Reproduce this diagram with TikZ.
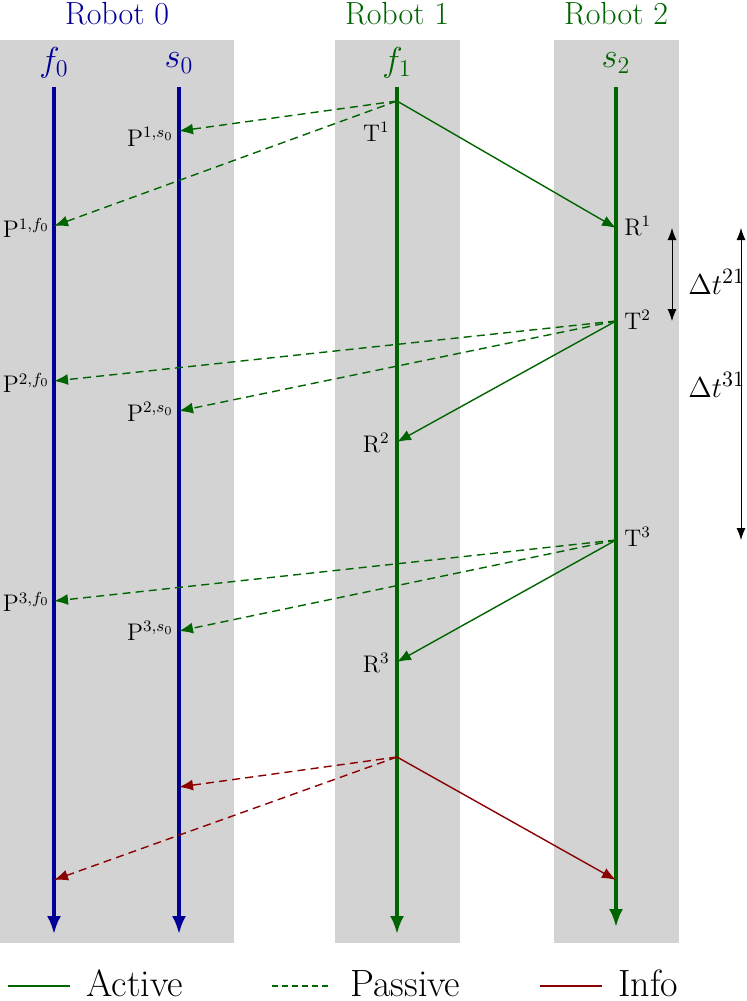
\documentclass[tikz,border=0pt]{standalone}
\usetikzlibrary{arrows.meta}
\definecolor{rblue}{RGB}{0,0,150}
\definecolor{rgreen}{RGB}{0,100,0}
\definecolor{rred}{RGB}{139,0,0}
\definecolor{bandgray}{RGB}{211,211,211}
\begin{document}
\begin{tikzpicture}[x=0.5pt,y=-0.5pt,
  band/.style={fill=bandgray, draw=none},
  timeline/.style={line width=1.6pt, -{Latex[length=9pt,width=7pt]}},
  active/.style={rgreen, line width=0.7pt, -{Latex[length=7pt,width=5.5pt]}},
  passive/.style={active, dash pattern=on 4pt off 2.6pt},
  info/.style={rred, line width=0.7pt, -{Latex[length=7pt,width=5.5pt]}},
  infopassive/.style={info, dash pattern=on 4pt off 2.6pt},
  title/.style={font=\fontsize{16}{19}\selectfont},
  axis/.style={font=\fontsize{17}{19}\selectfont},
  dtl/.style={font=\fontsize{15}{17}\selectfont, anchor=west, inner sep=0pt},
  lbl/.style={font=\fontsize{12}{14}\selectfont, inner sep=1pt},
  dt/.style={black, line width=0.4pt, {Latex[length=6pt,width=4.5pt]}-{Latex[length=6pt,width=4.5pt]}},
  legend/.style={font=\fontsize{19}{22}\selectfont, anchor=base west, inner sep=0pt}]
\useasboundingbox (0,0) rectangle (747,1001);
% bands
\fill[band] (0,40) rectangle (234,943);
\fill[band] (335,40) rectangle (460,943);
\fill[band] (554,40) rectangle (679,943);
% titles
\node[title, text=rblue] (r0) at (117,14) {Robot 0};
\node[title, text=rgreen] (r1) at (397,14) {Robot 1};
\node[title, text=rgreen] (r2) at (616,14) {Robot 2};
\node[axis, text=rblue] (hf0) at (54,63) {$f_0$};
\node[axis, text=rblue] (hs0) at (179,63) {$s_0$};
\node[axis, text=rgreen] (hf1) at (397,63) {$f_1$};
\node[axis, text=rgreen] (hs2) at (616,63) {$s_2$};
% timelines
\coordinate (f0top) at (54,87);  \coordinate (f0bot) at (54,934);
\coordinate (s0top) at (179,87); \coordinate (s0bot) at (179,934);
\coordinate (f1top) at (397,87); \coordinate (f1bot) at (397,934);
\coordinate (s2top) at (616,87); \coordinate (s2bot) at (616,927);
\draw[timeline, rblue] (f0top) -- (f0bot);
\draw[timeline, rblue] (s0top) -- (s0bot);
\draw[timeline, rgreen] (f1top) -- (f1bot);
\draw[timeline, rgreen] (s2top) -- (s2bot);
% events
\coordinate (T1) at (397,101);
\coordinate (P1s0) at (179,131);
\coordinate (P1f0) at (54,226);
\coordinate (R1) at (616,228);
\coordinate (T2) at (616,321);
\coordinate (P2f0) at (54,381);
\coordinate (P2s0) at (179,411);
\coordinate (R2) at (397,442);
\coordinate (T3) at (616,540);
\coordinate (P3f0) at (54,601);
\coordinate (P3s0) at (179,631);
\coordinate (R3) at (397,662);
\coordinate (I0) at (397,757);
\coordinate (Is0) at (179,787);
\coordinate (If0) at (54,880);
\coordinate (Is2) at (616,880);
% arrows
\draw[passive] (T1) -- (P1s0);
\draw[passive] (T1) -- (P1f0);
\draw[active] (T1) -- (R1);
\draw[passive] (T2) -- (P2f0);
\draw[passive] (T2) -- (P2s0);
\draw[active] (T2) -- (R2);
\draw[passive] (T3) -- (P3f0);
\draw[passive] (T3) -- (P3s0);
\draw[active] (T3) -- (R3);
\draw[infopassive] (I0) -- (Is0);
\draw[infopassive] (I0) -- (If0);
\draw[info] (I0) -- (Is2);
% labels
\node[lbl, anchor=east] (lT1) at (392,132) {$\mathrm{T}^1$};
\node[lbl, anchor=east] (lP1s0) at (176,137) {$\mathrm{P}^{1,s_0}$};
\node[lbl, anchor=east] (lP1f0) at (52,228) {$\mathrm{P}^{1,f_0}$};
\node[lbl, anchor=west] (lR1) at (622,226) {$\mathrm{R}^1$};
\node[lbl, anchor=west] (lT2) at (622,320) {$\mathrm{T}^2$};
\node[lbl, anchor=east] (lP2f0) at (52,383) {$\mathrm{P}^{2,f_0}$};
\node[lbl, anchor=east] (lP2s0) at (176,412) {$\mathrm{P}^{2,s_0}$};
\node[lbl, anchor=east] (lR2) at (392,443) {$\mathrm{R}^2$};
\node[lbl, anchor=west] (lT3) at (622,537) {$\mathrm{T}^3$};
\node[lbl, anchor=east] (lP3f0) at (52,602) {$\mathrm{P}^{3,f_0}$};
\node[lbl, anchor=east] (lP3s0) at (176,631) {$\mathrm{P}^{3,s_0}$};
\node[lbl, anchor=east] (lR3) at (392,663) {$\mathrm{R}^3$};
% delta t
\coordinate (d21a) at (672,228); \coordinate (d21b) at (672,321);
\coordinate (d31a) at (741,228); \coordinate (d31b) at (741,540);
\draw[dt] (d21a) -- (d21b);
\draw[dt] (d31a) -- (d31b);
\node[dtl] (ldt21) at (688,282) {$\Delta t^{21}$};
\node[dtl] (ldt31) at (688,385) {$\Delta t^{31}$};
% legend
\coordinate (la1) at (8,986); \coordinate (la2) at (70,986);
\coordinate (lp1) at (272,986); \coordinate (lp2) at (332,986);
\coordinate (li1) at (540,986); \coordinate (li2) at (602,986);
\draw[rgreen, line width=0.9pt] (la1) -- (la2);
\draw[rgreen, line width=0.9pt, dash pattern=on 3pt off 2pt] (lp1) -- (lp2);
\draw[rred, line width=0.9pt] (li1) -- (li2);
\node[legend] (tA) at (86,996) {Active};
\node[legend] (tP) at (350,996) {Passive};
\node[legend] (tI) at (618,996) {Info};
\end{tikzpicture}
\end{document}
